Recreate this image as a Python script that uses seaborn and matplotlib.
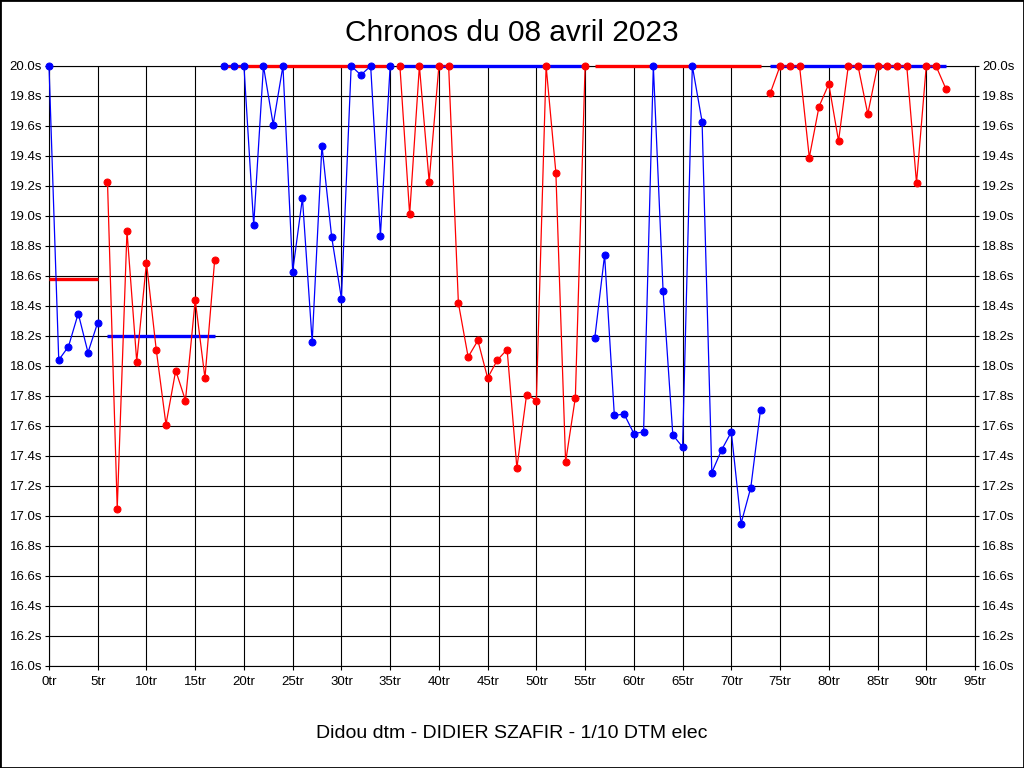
import matplotlib
matplotlib.use("Agg")
import matplotlib.pyplot as plt
import seaborn as sns
from matplotlib.patches import Rectangle

# lap times in seconds, values above 20.0 are shown clipped at the top
lap_times = [
    20.0, 18.04, 18.13, 18.35, 18.09, 18.29,
    19.23, 17.05, 18.90, 18.03, 18.69, 18.11, 17.61, 17.97, 17.77, 18.44, 17.92, 18.71,
    20.0, 20.0, 20.0, 18.94, 20.0, 19.61, 20.0, 18.63, 19.12, 18.16, 19.47, 18.86,
    18.45, 20.0, 19.94, 20.0, 18.87, 20.0,
    20.0, 19.01, 20.0, 19.23, 20.0, 20.0, 18.42, 18.06, 18.17, 17.92, 18.04, 18.11,
    17.32, 17.81, 17.77, 20.0, 19.29, 17.36, 17.79, 20.0,
    18.19, 18.74, 17.67, 17.68, 17.55, 17.56, 20.0, 18.50, 17.54, 17.46, 20.0, 19.63,
    17.29, 17.44, 17.56, 16.95, 17.19, 17.71,
    19.82, 20.0, 20.0, 20.0, 19.39, 19.73, 19.88, 19.50, 20.0, 20.0, 19.68, 20.0,
    20.0, 20.0, 20.0, 19.22, 20.0, 20.0, 19.85,
]
laps = list(range(len(lap_times)))

segment_starts = [0, 6, 18, 36, 56, 74]
segment_ends = [5, 17, 35, 55, 73, 92]
segment_colors = ["#0000ff", "#ff0000", "#0000ff", "#ff0000", "#0000ff", "#ff0000"]
# mean line of each segment (drawn in the other colour)
mean_values = [18.58, 18.20, 20.0, 20.0, 20.0, 20.0]
mean_colors = ["#ff0000", "#0000ff", "#ff0000", "#0000ff", "#ff0000", "#0000ff"]

x_ticks = list(range(0, 96, 5))
y_ticks = [16.0 + 0.2 * i for i in range(21)]

sns.set_style("white")
plt.rcParams["font.family"] = ["Liberation Sans", "DejaVu Sans"]
plt.rcParams["text.color"] = "black"
plt.rcParams["xtick.color"] = "black"
plt.rcParams["ytick.color"] = "black"

fig = plt.figure(figsize=(10.24, 7.68), dpi=100)
ax = fig.add_axes([49 / 1024, 102 / 768, 926 / 1024, 600 / 768])

ax.set_xlim(0, 95)
ax.set_ylim(16.0, 20.0)
ax.set_xticks(x_ticks)
ax.set_xticklabels([f"{t}tr" for t in x_ticks])
ax.set_yticks(y_ticks)
ax.set_yticklabels([f"{v:.1f}s" for v in y_ticks])
ax.grid(True, color="black", linewidth=0.8)
ax.set_axisbelow(True)
ax.tick_params(axis="both", labelsize=9.5, length=3, direction="out")
ax.tick_params(axis="y", right=True, labelright=True, left=True, pad=2)
ax.tick_params(axis="x", bottom=True, pad=4)
for sp in ax.spines.values():
    sp.set_color("black")
    sp.set_linewidth(0.8)

for s, e, m, c in zip(segment_starts, segment_ends, mean_values, mean_colors):
    ax.plot([s, e], [m, m], color=c, linewidth=2.4, zorder=3, clip_on=False,
            solid_capstyle="butt")

for s, e, c in zip(segment_starts, segment_ends, segment_colors):
    sns.lineplot(x=laps[s:e + 1], y=lap_times[s:e + 1], color=c, linewidth=0.9,
                 marker="o", markersize=5, markeredgecolor=c, ax=ax,
                 clip_on=False, zorder=4)

fig.text(0.5, 1 - 33 / 768, "Chronos du 08 avril 2023", ha="center", va="center",
         fontsize=21.5, color="black")
fig.text(0.5, 1 - 733 / 768, "Didou dtm - DIDIER SZAFIR - 1/10 DTM elec",
         ha="center", va="center", fontsize=14, color="black")

fig.patches.append(Rectangle((0, 0), 1, 1, transform=fig.transFigure, fill=False,
                             edgecolor="black", linewidth=2))

fig.savefig("out.png", dpi=100)
